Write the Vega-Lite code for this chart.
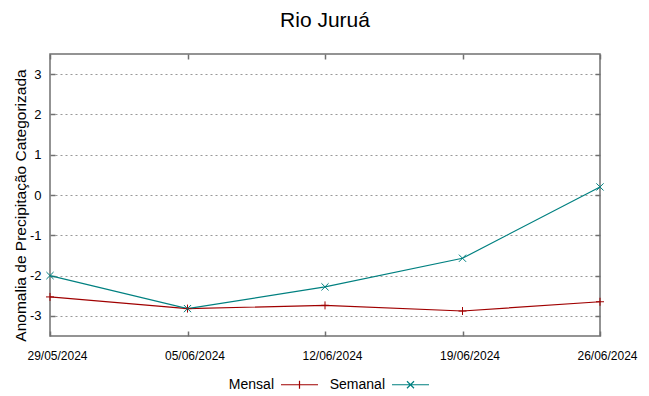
{
  "$schema": "https://vega.github.io/schema/vega-lite/v6.json",
  "width": 550,
  "height": 282,
  "autosize": "none",
  "padding": {"left": 50, "top": 54, "right": 49, "bottom": 60},
  "title": {"text": "Rio Juruá", "fontSize": 21, "font": "Liberation Sans", "fontWeight": "normal", "offset": 22, "anchor": "middle", "color": "#000000"},
  "config": {
    "view": {"stroke": "#707070", "strokeWidth": 1.5},
    "font": "Liberation Sans"
  },
  "data": {
    "values": [
      {"date": "29/05/2024", "series": "Mensal", "value": -2.53},
      {"date": "05/06/2024", "series": "Mensal", "value": -2.82},
      {"date": "12/06/2024", "series": "Mensal", "value": -2.74},
      {"date": "19/06/2024", "series": "Mensal", "value": -2.88},
      {"date": "26/06/2024", "series": "Mensal", "value": -2.65},
      {"date": "29/05/2024", "series": "Semanal", "value": -2.0},
      {"date": "05/06/2024", "series": "Semanal", "value": -2.82},
      {"date": "12/06/2024", "series": "Semanal", "value": -2.28},
      {"date": "19/06/2024", "series": "Semanal", "value": -1.57},
      {"date": "26/06/2024", "series": "Semanal", "value": 0.2}
    ]
  },
  "layer": [
    {
      "mark": {"type": "line", "strokeWidth": 1.2},
      "encoding": {
        "x": {"field": "date", "type": "ordinal", "sort": null, "scale": {"padding": 0},
          "axis": {"orient": "bottom", "labelAngle": 0, "tickSize": -5, "tickColor": "#707070", "tickWidth": 1.5, "labelPadding": 19, "labelOffset": 7, "domain": false, "grid": false, "title": null, "labelFontSize": 12, "labelColor": "#000000"}},
        "y": {"field": "value", "type": "quantitative", "scale": {"domain": [-3.5, 3.5], "nice": false, "zero": false},
          "axis": {"orient": "left", "values": [-3, -2, -1, 0, 1, 2, 3], "labelExpr": "replace(datum.label, '−', '-')", "grid": true, "gridDash": [2, 3], "gridColor": "#999999", "gridOpacity": 1, "tickSize": -5, "tickColor": "#707070", "tickWidth": 1.5, "labelPadding": 14, "domain": false, "labelFontSize": 13, "labelColor": "#000000",
            "title": "Anomalia de Precipitação Categorizada", "titleFontSize": 15.5, "titleFontWeight": "normal", "titleColor": "#000000", "titlePadding": 1, "titleY": 151}},
        "color": {"field": "series", "type": "nominal",
          "scale": {"domain": ["Mensal", "Semanal"], "range": ["#a00000", "#008080"]},
          "legend": {"orient": "none", "legendX": 230, "legendY": 311, "direction": "horizontal", "title": null, "labelFontSize": 14, "labelColor": "#000000", "labelAlign": "right", "labelOffset": -45, "symbolSize": 1369, "symbolStrokeWidth": 1.2, "columnPadding": 8, "padding": 0,
            "encode": {"symbols": {"update": {"shape": {"signal": "datum.value === 'Mensal' ? 'M-1,0L1,0M0,-0.22L0,0.22' : 'M-1,0L1,0M-0.19,-0.19L0.19,0.19M-0.19,0.19L0.19,-0.19'"}}}}}}
      }
    },
    {
      "transform": [{"filter": "datum.series === 'Mensal'"}],
      "mark": {"type": "point", "filled": false, "strokeWidth": 1, "opacity": 1, "size": 64, "color": "#a00000", "shape": "M0,-1L0,1M-1,0L1,0"},
      "encoding": {
        "x": {"field": "date", "type": "ordinal", "sort": null, "scale": {"padding": 0}, "axis": null},
        "y": {"field": "value", "type": "quantitative", "axis": null}
      }
    },
    {
      "transform": [{"filter": "datum.series === 'Semanal'"}],
      "mark": {"type": "point", "filled": false, "strokeWidth": 1, "opacity": 1, "size": 64, "color": "#008080", "shape": "M-0.9,-0.9L0.9,0.9M-0.9,0.9L0.9,-0.9"},
      "encoding": {
        "x": {"field": "date", "type": "ordinal", "sort": null, "scale": {"padding": 0},
          "axis": {"orient": "top", "labels": false, "tickSize": -5, "tickColor": "#707070", "tickWidth": 1.5, "domain": false, "grid": false, "title": null}},
        "y": {"field": "value", "type": "quantitative",
          "axis": {"orient": "right", "values": [-3, -2, -1, 0, 1, 2, 3], "labels": false, "tickSize": -5, "tickColor": "#707070", "tickWidth": 1.5, "domain": false, "grid": false, "title": null}}
      }
    }
  ],
  "resolve": {"axis": {"x": "independent", "y": "independent"}}
}
